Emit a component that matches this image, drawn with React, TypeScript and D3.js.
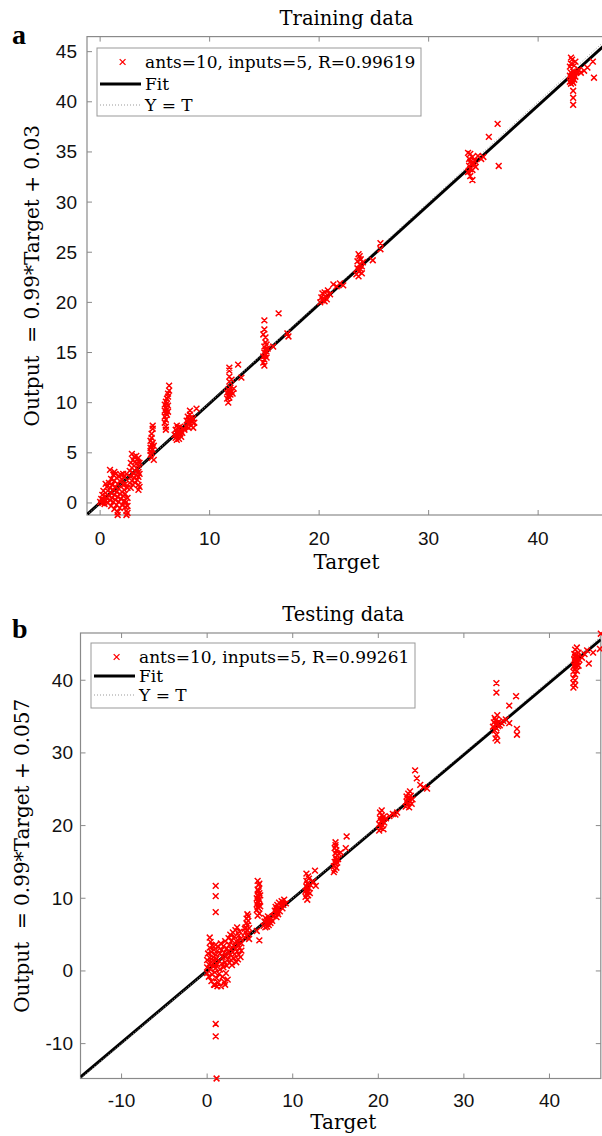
import React from 'react';
import * as d3 from 'd3';

type Pt = [number, number];

// ---- training data (Target, Output) ----
const trainLow: Pt[] = [
  [0.0, 0.1], [0.1, 0.4], [0.2, 0.0], [0.2, 0.8], [0.3, 0.3], [0.3, 1.2], [0.4, 0.6], [0.4, -0.1],
  [0.5, 1.0], [0.5, 0.2], [0.6, 1.6], [0.6, 0.5], [0.7, 0.0], [0.7, 1.2], [0.8, 2.0], [0.8, 0.7],
  [0.9, 0.3], [0.9, 1.5], [0.9, 3.3], [1.0, 1.0], [1.0, 2.4], [1.0, -0.3], [1.1, 0.5], [1.1, 1.8],
  [1.2, 1.3], [1.2, 2.8], [1.2, 0.1], [1.3, 0.8], [1.3, 2.2], [1.3, -0.6], [1.4, 1.6], [1.4, 0.3],
  [1.4, 2.9], [1.5, 1.1], [1.5, -0.2], [1.5, 2.5], [1.6, 0.6], [1.6, 1.9], [1.6, -0.9], [1.7, 1.4],
  [1.7, 2.7], [1.7, 0.1], [1.8, 0.9], [1.8, 2.2], [1.8, -0.5], [1.9, 1.6], [1.9, 0.4], [1.9, 2.8],
  [2.0, 1.1], [2.0, -0.2], [2.0, 2.3], [2.1, 0.7], [2.1, 1.8], [2.2, 2.6], [2.2, 1.3], [2.2, 0.2],
  [2.3, 0.9], [2.3, 1.9], [2.3, -0.4], [2.4, 0.1], [2.4, -0.8], [2.4, -1.2], [2.4, 2.9], [2.5, 1.5],
  [2.5, 0.5], [2.5, -0.3], [2.5, -1.0], [1.6, -1.2], [1.3, 3.1], [0.5, 1.9], [2.1, 2.9],
];
const trainMid: Pt[] = [
  [2.7, 2.0], [2.7, 3.2], [2.8, 4.0], [2.8, 2.6], [2.9, 4.9], [2.9, 3.5], [2.9, 2.2], [3.0, 3.0],
  [3.0, 4.3], [3.0, 1.8], [3.1, 3.7], [3.1, 2.5], [3.1, 4.6], [3.2, 3.2], [3.2, 2.0], [3.2, 4.1],
  [3.3, 2.8], [3.3, 3.9], [3.3, 4.7], [3.4, 3.4], [3.4, 2.3], [3.4, 4.4], [3.5, 1.3], [3.5, 1.8],
  [3.5, 2.6], [3.5, 3.1], [3.5, 3.8], [3.5, 4.5], [3.6, 1.6], [3.6, 2.9], [3.6, 4.0], [2.8, 1.5],
  [4.6, 4.8], [4.6, 5.5], [4.6, 6.2], [4.7, 4.5], [4.7, 5.0], [4.7, 5.8], [4.7, 6.5], [4.7, 6.9],
  [4.8, 5.3], [4.8, 6.0], [4.8, 7.4], [4.8, 7.7], [4.9, 4.3], [4.6, 5.2], [4.9, 5.7],
  [5.9, 8.6], [5.9, 9.2], [5.9, 9.8], [6.0, 8.3], [6.0, 9.0], [6.0, 9.5], [6.0, 10.1], [6.1, 8.8],
  [6.1, 9.3], [6.1, 9.9], [6.1, 10.4], [6.2, 9.1], [6.2, 9.7], [6.2, 10.6], [6.3, 11.2], [6.3, 11.7],
  [6.2, 10.9], [6.0, 7.3], [6.0, 7.6], [5.9, 8.0],
  [6.8, 6.8], [6.9, 7.3], [6.9, 6.5], [7.0, 7.0], [7.0, 6.3], [7.1, 7.5], [7.1, 6.7], [7.2, 7.1],
  [7.2, 6.4], [7.3, 6.9], [7.3, 7.6], [7.4, 6.6], [7.4, 7.2], [7.5, 7.0], [7.6, 7.4], [7.7, 7.3], [7.0, 7.7],
  [7.9, 7.6], [7.9, 8.2], [8.0, 7.9], [8.0, 8.6], [8.1, 7.5], [8.1, 8.3], [8.2, 8.0], [8.2, 8.8],
  [8.2, 9.2], [8.3, 7.7], [8.3, 8.5], [8.4, 8.1], [8.5, 8.4], [8.6, 8.0], [8.8, 9.4], [8.5, 7.5],
];
const trainHigh: Pt[] = [
  [11.6, 10.4], [11.6, 11.0], [11.7, 10.0], [11.7, 10.7], [11.7, 11.3], [11.8, 10.5], [11.8, 11.1],
  [11.8, 12.1], [11.8, 12.6], [11.8, 13.2], [11.8, 13.5], [11.9, 10.8], [11.9, 11.5], [12.0, 11.1],
  [12.0, 12.3], [12.1, 10.9], [12.6, 13.8], [12.9, 12.5], [12.2, 11.4],
  [14.9, 14.0], [14.9, 14.6], [15.0, 13.7], [15.0, 14.3], [15.0, 15.0], [15.0, 15.6], [15.1, 14.8],
  [15.1, 15.3], [15.1, 16.0], [15.1, 16.5], [15.2, 14.5], [15.2, 15.1], [15.2, 15.8], [15.0, 17.3],
  [15.0, 18.2], [14.9, 16.8], [15.3, 15.4], [15.8, 15.6], [16.3, 18.9], [17.1, 16.9], [17.2, 16.6],
  [20.1, 20.0], [20.2, 20.5], [20.3, 20.2], [20.3, 20.9], [20.4, 20.4], [20.5, 21.0], [20.5, 20.1],
  [20.6, 20.6], [20.7, 20.3], [20.8, 21.2], [21.3, 21.8], [21.6, 21.6], [21.9, 21.9], [22.2, 21.7], [21.0, 20.8],
  [23.4, 22.8], [23.5, 23.4], [23.5, 24.1], [23.6, 22.6], [23.6, 23.1], [23.7, 23.8], [23.7, 24.6],
  [23.8, 23.3], [23.8, 24.3], [23.9, 22.9], [23.9, 23.6], [24.0, 24.0], [23.6, 24.8], [24.9, 24.2],
  [25.6, 25.3], [25.6, 25.9],
  [33.6, 33.0], [33.7, 33.6], [33.7, 34.3], [33.8, 32.6], [33.8, 33.3], [33.8, 34.0], [33.8, 34.8],
  [33.9, 33.8], [34.0, 33.2], [34.0, 34.5], [34.0, 32.2], [34.1, 33.9], [34.2, 34.1], [34.3, 33.5],
  [34.5, 34.6], [34.8, 34.3], [35.0, 34.5], [36.4, 33.6], [35.5, 36.5], [36.3, 37.8], [33.6, 34.9],
  [42.9, 42.0], [42.9, 42.6], [42.9, 43.5], [43.0, 41.8], [43.0, 42.3], [43.0, 42.9], [43.0, 43.8],
  [43.1, 42.1], [43.1, 42.6], [43.1, 44.2], [43.2, 41.9], [43.2, 42.4], [43.2, 43.0], [43.2, 41.1],
  [43.2, 40.4], [43.2, 39.7], [43.3, 42.2], [43.3, 42.8], [43.3, 43.6], [43.4, 42.5], [43.4, 44.0],
  [43.5, 42.9], [43.7, 43.2], [43.9, 42.9], [44.2, 43.1], [44.5, 43.4], [45.0, 44.0], [45.1, 42.4],
  [43.0, 44.4], [43.6, 43.0],
];

// ---- testing data (Target, Output) ----
const testLow: Pt[] = [
  [0.0, 0.5], [0.0, 1.5], [0.0, -0.3], [0.1, 2.4], [0.2, 0.9], [0.2, -0.8], [0.3, 1.8], [0.3, 3.2],
  [0.4, 4.0], [0.4, 0.2], [0.5, 2.6], [0.5, -1.4], [0.5, 1.2], [0.6, 3.5], [0.6, -0.5], [0.7, 1.9],
  [0.7, 0.6], [0.8, 2.9], [0.8, -1.9], [0.9, 1.3], [0.9, -0.2], [1.0, 3.6], [1.0, 2.2], [1.0, 0.4],
  [1.1, -1.0], [1.1, 1.7], [1.2, 2.8], [1.2, 0.9], [1.3, -1.6], [1.3, 3.3], [1.4, 1.4], [1.4, -0.4],
  [1.5, 2.4], [1.5, 0.2], [1.6, -2.1], [1.6, 3.8], [1.7, 1.0], [1.7, 2.9], [1.8, -0.8], [1.8, 1.9],
  [1.9, 0.5], [1.9, 3.4], [2.0, -1.5], [2.0, 2.5], [2.1, 1.2], [2.1, 4.1], [2.2, -0.3], [2.2, 2.0],
  [2.3, 3.1], [2.3, 0.7], [2.4, -1.2], [2.4, 1.6], [2.5, 4.5], [2.5, 2.7], [2.6, 1.1], [2.6, 3.6],
  [2.7, 2.2], [2.7, 5.0], [2.8, 1.5], [2.8, 3.0], [2.9, 4.2], [2.9, 0.8], [3.0, 2.6], [3.0, 5.3],
  [3.1, 3.5], [3.1, 1.8], [3.2, 4.7], [3.2, 2.3], [3.3, 3.0], [3.3, 5.6], [3.4, 1.2], [3.4, 4.1],
  [3.5, 2.7], [3.5, 6.0], [3.6, 3.6], [3.6, 1.6], [3.7, 4.9], [3.7, 2.2], [3.8, 3.2], [3.8, 5.4],
  [3.9, 1.9], [3.9, 4.4], [4.0, 2.8], [4.0, 3.8], [0.3, 4.6], [0.9, -1.9], [1.2, -2.1], [2.1, -1.9],
  [1.0, 11.7], [1.0, 10.3], [1.0, 8.1], [1.0, -7.3], [1.0, -9.0], [1.1, -14.8],
];
const testMid: Pt[] = [
  [4.4, 4.6], [4.5, 5.3], [4.5, 6.0], [4.6, 4.9], [4.6, 6.6], [4.6, 7.2], [4.7, 5.6], [4.7, 6.3],
  [4.7, 7.8], [4.8, 5.1], [4.8, 6.9], [4.9, 4.4], [4.9, 5.9], [4.4, 5.8], [4.8, 7.5],
  [5.8, 8.4], [5.8, 9.2], [5.8, 10.0], [5.9, 8.8], [5.9, 9.6], [5.9, 10.4], [5.9, 11.2], [6.0, 8.6],
  [6.0, 9.4], [6.0, 10.2], [6.0, 11.0], [6.0, 11.8], [6.1, 9.0], [6.1, 9.8], [6.1, 10.7], [6.2, 8.9],
  [6.2, 10.4], [5.9, 12.4], [6.1, 12.0], [5.9, 7.6], [6.1, 7.9], [5.8, 5.5], [6.1, 4.2],
  [6.6, 6.2], [6.7, 6.8], [6.8, 6.0], [6.8, 7.3], [6.9, 6.5], [7.0, 7.0], [7.0, 6.1], [7.1, 6.7],
  [7.1, 7.5], [7.2, 6.3], [7.3, 7.0], [7.4, 6.6], [7.5, 7.2], [7.6, 6.9], [7.7, 7.5],
  [7.8, 7.6], [7.9, 8.3], [8.0, 7.9], [8.0, 8.8], [8.1, 7.4], [8.1, 8.5], [8.2, 8.1], [8.2, 9.1],
  [8.3, 7.8], [8.3, 8.7], [8.4, 9.4], [8.5, 8.2], [8.6, 9.0], [8.7, 9.6], [8.8, 8.6], [9.0, 9.8],
  [9.2, 9.3], [8.9, 9.1],
];
const testHigh: Pt[] = [
  [11.5, 10.2], [11.5, 11.0], [11.6, 10.6], [11.6, 11.6], [11.6, 12.4], [11.7, 9.8], [11.7, 11.2],
  [11.7, 12.0], [11.8, 10.4], [11.8, 10.9], [11.8, 13.0], [11.9, 11.4], [11.9, 12.7], [12.0, 10.7],
  [12.1, 11.8], [12.6, 13.8], [12.7, 11.7], [12.4, 12.3], [11.6, 13.4],
  [14.8, 13.6], [14.8, 14.4], [14.9, 15.0], [14.9, 13.9], [15.0, 14.7], [15.0, 15.6], [15.0, 16.2],
  [15.1, 14.2], [15.1, 15.3], [15.1, 16.6], [15.2, 14.9], [15.2, 15.9], [15.3, 15.4], [15.4, 16.1],
  [15.0, 17.3], [15.0, 17.7], [16.2, 16.9], [16.3, 18.5], [15.6, 16.3], [14.9, 16.9],
  [20.1, 19.3], [20.1, 20.2], [20.2, 21.0], [20.2, 21.8], [20.3, 19.7], [20.3, 20.6], [20.4, 21.4],
  [20.4, 22.1], [20.5, 20.0], [20.5, 20.9], [20.6, 19.5], [20.6, 21.2], [20.7, 20.4], [20.9, 21.0],
  [21.3, 21.3], [21.7, 21.6], [22.2, 21.8], [22.0, 21.5],
  [23.2, 22.6], [23.3, 23.3], [23.3, 24.0], [23.4, 22.9], [23.4, 23.7], [23.5, 24.4], [23.5, 23.1],
  [23.6, 22.5], [23.6, 23.9], [23.7, 23.4], [23.7, 24.7], [23.8, 24.1], [23.9, 23.0], [24.3, 27.6],
  [24.5, 26.5], [24.9, 25.6], [25.3, 25.3], [25.7, 25.1], [24.0, 23.6],
  [33.4, 33.6], [33.5, 34.2], [33.6, 33.1], [33.6, 34.8], [33.7, 33.9], [33.7, 34.5], [33.8, 33.4],
  [33.8, 32.5], [33.9, 34.0], [33.9, 35.2], [34.0, 33.7], [34.1, 34.3], [34.2, 33.8], [34.4, 34.1],
  [34.6, 34.4], [33.7, 32.0], [33.9, 31.7], [33.8, 39.6], [33.8, 38.3], [35.3, 36.5], [36.1, 37.8],
  [35.3, 34.1], [36.2, 33.3], [36.2, 32.5], [34.9, 34.6],
  [42.8, 39.0], [42.8, 39.6], [42.8, 40.3], [42.8, 41.2], [42.9, 42.0], [42.9, 42.8], [42.9, 43.6],
  [43.0, 39.3], [43.0, 40.0], [43.0, 40.8], [43.0, 41.6], [43.0, 42.4], [43.0, 43.2], [43.0, 44.2],
  [43.1, 41.9], [43.1, 42.7], [43.1, 43.5], [43.2, 41.3], [43.2, 42.2], [43.2, 43.0], [43.2, 44.5],
  [43.3, 42.5], [43.3, 43.3], [43.4, 42.0], [43.4, 43.8], [43.5, 42.8], [43.8, 43.1], [44.1, 43.6],
  [44.4, 44.1], [44.6, 42.3], [45.1, 43.8], [45.9, 44.3], [46.0, 46.4],
];

const trainXTicks = [0, 10, 20, 30, 40];
const trainYTicks = [0, 5, 10, 15, 20, 25, 30, 35, 40, 45];
const testXTicks = [-10, 0, 10, 20, 30, 40];
const testYTicks = [-10, 0, 10, 20, 30, 40];

// fit = [slope, intercept]
const trainFit = [0.99, 0.03];
const testFit = [0.99, 0.057];
const legendNames = ['ants=10, inputs=5, R=0.99619', 'ants=10, inputs=5, R=0.99261'];

const SERIF = '"DejaVu Serif", serif';
const SANS = '"Liberation Sans", Arial, sans-serif';
const AXIS = '#8a8a8a';

const Panel = (props) => {
  const { id, letter, title, points, fit, name, yLabel, xDomain, yDomain, xTicks, yTicks, box, leg, letterPos, titleY, xLabelY, xTickY, yLabelX, yTickX } = props;

  const x = d3.scaleLinear().domain(xDomain).range([box.left, box.right]);
  const y = d3.scaleLinear().domain(yDomain).range([box.bottom, box.top]);

  const fitLine = d3
    .line<number>()
    .x((d) => x(d))
    .y((d) => y(fit[0] * d + fit[1]));
  const idLine = d3
    .line<number>()
    .x((d) => x(d))
    .y((d) => y(d));

  const s = 2.9;
  const marks = points
    .map(([t, v]) => {
      const px = x(t);
      const py = y(v);
      return `M${px - s},${py - s}L${px + s},${py + s}M${px - s},${py + s}L${px + s},${py - s}`;
    })
    .join('');

  const tl = 5;
  const midY = (box.top + box.bottom) / 2;

  return (
    <g>
      <defs>
        <clipPath id={id}>
          <rect x={box.left} y={box.top} width={box.right - box.left} height={box.bottom - box.top} />
        </clipPath>
      </defs>
      <text x={letterPos[0]} y={letterPos[1]} fontFamily='"Liberation Serif", serif' fontWeight='bold' fontSize={28}>
        {letter}
      </text>
      <text x={(box.left + 602) / 2 + 2} y={titleY} textAnchor='middle' dominantBaseline='central' fontFamily={SERIF} fontSize={19.5}>
        {title}
      </text>

      {/* axes box */}
      <rect x={box.left} y={box.top} width={box.right - box.left} height={box.bottom - box.top} fill='none' stroke={AXIS} strokeWidth={1.2} />
      {xTicks.map((t) => (
        <g key={'x' + t}>
          <line x1={x(t)} x2={x(t)} y1={box.bottom} y2={box.bottom - tl} stroke={AXIS} />
          <line x1={x(t)} x2={x(t)} y1={box.top} y2={box.top + tl} stroke={AXIS} />
          <text x={x(t)} y={xTickY} textAnchor='middle' dominantBaseline='central' fontFamily={SANS} fontSize={19} fill='#111'>
            {t}
          </text>
        </g>
      ))}
      {yTicks.map((t) => (
        <g key={'y' + t}>
          <line x1={box.left} x2={box.left + tl} y1={y(t)} y2={y(t)} stroke={AXIS} />
          <line x1={box.right} x2={box.right - tl} y1={y(t)} y2={y(t)} stroke={AXIS} />
          <text x={yTickX} y={y(t)} textAnchor='end' dominantBaseline='central' fontFamily={SANS} fontSize={19} fill='#111'>
            {t}
          </text>
        </g>
      ))}

      <text x={(box.left + 602) / 2 + 2} y={xLabelY} textAnchor='middle' dominantBaseline='central' fontFamily={SERIF} fontSize={20}>
        Target
      </text>
      <text
        transform={`translate(${yLabelX},${midY}) rotate(-90)`}
        textAnchor='middle'
        dominantBaseline='central'
        fontFamily={SERIF}
        fontSize={20}
        style={{ whiteSpace: 'pre' }}
      >
        {yLabel}
      </text>

      <g clipPath={`url(#${id})`}>
        <path d={fitLine(xDomain)} stroke='#000' strokeWidth={3} fill='none' />
        <path d={idLine(xDomain)} stroke='#999' strokeWidth={1} strokeDasharray='1,2' fill='none' />
      </g>
      <path d={marks} stroke='#f00' strokeWidth={1.5} fill='none' />

      {/* legend */}
      <rect x={leg.left} y={leg.top} width={leg.right - leg.left} height={leg.bottom - leg.top} fill='#fff' stroke='#999' strokeWidth={1} />
      <path
        d={`M${leg.mark - s},${leg.rows[0] - s}L${leg.mark + s},${leg.rows[0] + s}M${leg.mark - s},${leg.rows[0] + s}L${leg.mark + s},${leg.rows[0] - s}`}
        stroke='#f00'
        strokeWidth={1.3}
      />
      <line x1={leg.line[0]} x2={leg.line[1]} y1={leg.rows[1]} y2={leg.rows[1]} stroke='#000' strokeWidth={3} />
      <line x1={leg.line[0]} x2={leg.line[1]} y1={leg.rows[2]} y2={leg.rows[2]} stroke='#999' strokeWidth={1} strokeDasharray='1,2' />
      {[name, 'Fit', 'Y = T'].map((txt, i) => (
        <text key={txt} x={leg.text} y={leg.rows[i]} dominantBaseline='central' fontFamily={SERIF} fontSize={17}>
          {txt}
        </text>
      ))}
    </g>
  );
};

const App = () => {
  return (
    <svg width={602} height={1136} style={{ position: 'absolute', left: 0, top: 0, background: '#fff' }}>
      <Panel
        id='clipA'
        letter='a'
        title='Training data'
        points={[...trainLow, ...trainMid, ...trainHigh]}
        fit={trainFit}
        name={legendNames[0]}
        yLabel='Output  = 0.99*Target + 0.03'
        xDomain={[-1.2, 46.5]}
        yDomain={[-1.2, 46.5]}
        xTicks={trainXTicks}
        yTicks={trainYTicks}
        box={{ left: 87, right: 609.3, top: 36.6, bottom: 515 }}
        leg={{ left: 97, right: 421, top: 48, bottom: 116, rows: [62, 84, 105], mark: 122.6, line: [100, 141], text: 145 }}
        letterPos={[12, 44]}
        titleY={18}
        xLabelY={562}
        xTickY={538}
        yLabelX={32}
        yTickX={77}
      />
      <Panel
        id='clipB'
        letter='b'
        title='Testing data'
        points={[...testLow, ...testMid, ...testHigh]}
        fit={testFit}
        name={legendNames[1]}
        yLabel='Output  = 0.99*Target + 0.057'
        xDomain={[-14.8, 46]}
        yDomain={[-14.8, 46.5]}
        xTicks={testXTicks}
        yTicks={testYTicks}
        box={{ left: 80.5, right: 600.8, top: 633, bottom: 1078.5 }}
        leg={{ left: 91, right: 415, top: 643, bottom: 708, rows: [657, 676, 695], mark: 116.6, line: [94, 135], text: 139 }}
        letterPos={[12, 638]}
        titleY={614}
        xLabelY={1122}
        xTickY={1100}
        yLabelX={22}
        yTickX={73}
      />
    </svg>
  );
};

export default App;
